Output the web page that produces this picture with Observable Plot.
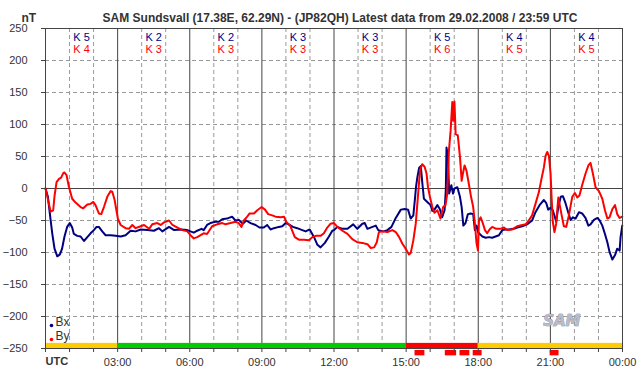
<!DOCTYPE html>
<html><head><meta charset="utf-8">
<script src="https://cdn.jsdelivr.net/npm/d3@7"></script>
<script src="https://cdn.jsdelivr.net/npm/@observablehq/plot@0.6"></script>
<style>body{margin:0;background:#fff} svg{display:block}</style>
</head><body><div id="chart"></div>
<script>
const title = "SAM Sundsvall (17.38E, 62.29N) - (JP82QH) Latest data from 29.02.2008 / 23:59 UTC";
const unitLabel = "nT";
const timeLabel = "UTC";
const hourTicks = [3, 6, 9, 12, 15, 18, 21, 24];
const hourTickLabels = ["03:00", "06:00", "09:00", "12:00", "15:00", "18:00", "21:00", "00:00"];
const yTicks = [-250, -200, -150, -100, -50, 0, 50, 100, 150, 200, 250];
const kStart = [0, 3, 6, 9, 12, 15, 18, 21];
const kBx = [5, 2, 2, 3, 3, 5, 4, 4];
const kBy = [4, 3, 3, 3, 3, 6, 5, 5];
const statusStart = [0, 3, 15, 18];
const statusEnd = [3, 15, 18, 24];
const statusColor = ["#ffcc00", "#00cc00", "#ff0000", "#ffcc00"];
const alertStart = [15.37, 16.63, 17.24, 17.79, 20.99];
const alertEnd = [15.78, 17.10, 17.65, 18.16, 21.36];
const seriesNames = ["Bx", "By"];
const seriesColors = ["#000080", "#ff0000"];

const bxTime = [0,0.1,0.18,0.28,0.375,0.49,0.6,0.69,0.79,0.9,1.01,1.11,1.18,1.32,1.46,1.6,1.74,1.875,2.01,2.125,2.22,2.36,2.5,2.71,2.92,3.125,3.33,3.54,3.75,3.96,4.24,4.51,4.72,4.86,5.14,5.35,5.63,5.9,
 6.03,6.17,6.31,6.49,6.58,6.72,6.86,7.07,7.21,7.35,7.55,7.76,7.9,8.04,8.21,8.35,8.53,8.74,8.9,9.08,9.22,9.36,9.5,9.71,9.85,9.99,10.12,10.29,10.47,10.68,10.82,10.99,11.17,11.31,11.44,11.62,11.79,11.93,
 12.0,12.14,12.35,12.56,12.8,12.97,13.18,13.28,13.39,13.6,13.74,13.84,14.06,14.22,14.39,14.57,14.78,14.94,15.08,15.19,15.3,15.36,15.41,15.47,15.54,15.61,15.67,15.74,15.88,16.02,16.09,16.18,16.3,16.4,16.5,16.6,16.65,16.68,16.74,16.79,16.88,16.95,17.01,17.13,17.24,17.31,17.38,17.47,17.57,17.68,17.79,17.86,17.93,17.99,
 18.03,18.17,18.31,18.44,18.58,18.72,18.86,19.0,19.13,19.27,19.48,19.62,19.83,20.03,20.24,20.38,20.55,20.73,20.83,20.91,21.01,21.1,21.19,21.24,21.33,21.43,21.52,21.63,21.74,21.84,21.94,22.05,22.19,22.32,22.46,22.58,22.67,22.81,22.96,23.05,23.16,23.27,23.37,23.46,23.58,23.69,23.78,23.88,23.92,23.99];
const bxValue = [0,-13,-39,-70,-94,-106,-103,-94,-75,-60,-54,-61,-71,-74,-75,-82,-76,-70,-65,-60,-60,-67,-73,-73,-74,-75,-73,-66,-67,-64,-65,-66,-62,-67,-60,-65,-64,-65,
 -67,-69,-66,-63,-65,-57,-54,-52,-52,-48,-47,-44,-50,-49,-55,-50,-54,-57,-61,-61,-57,-64,-62,-60,-59,-54,-56,-60,-62,-65,-67,-64,-76,-88,-92,-85,-75,-66,
 -65,-60,-63,-63,-56,-63,-55,-54,-63,-60,-58,-65,-67,-65,-60,-46,-33,-32,-33,-47,-42,-19,2,18,32,35,10,-16,-21,-26,-35,-33,-26,-32,-45,-34,-3,64,49,-8,5,-8,0,2,-13,-29,-58,-54,-40,-39,-40,-65,-58,-68,
 -70,-75,-77,-76,-77,-75,-73,-65,-64,-64,-63,-61,-59,-56,-50,-37,-26,-18,-23,-33,-30,-34,-45,-52,-29,-13,-12,-23,-37,-49,-45,-47,-37,-39,-46,-58,-56,-49,-46,-50,-58,-71,-84,-99,-111,-104,-94,-97,-76,-58];

const byTime = [0,0.1,0.21,0.32,0.375,0.46,0.56,0.65,0.74,0.79,0.875,0.97,1.11,1.25,1.46,1.57,1.74,1.875,1.99,2.08,2.22,2.32,2.43,2.57,2.71,2.78,2.875,3.01,3.125,3.33,3.47,3.61,3.75,3.96,4.1,4.31,4.44,4.65,4.79,4.93,5.14,5.28,5.49,5.69,5.9,
 6.03,6.17,6.31,6.45,6.58,6.72,6.93,7.14,7.35,7.49,7.7,7.9,8.04,8.15,8.25,8.39,8.49,8.67,8.81,8.99,9.13,9.26,9.43,9.57,9.78,9.92,10.01,10.19,10.37,10.54,10.75,10.96,11.1,11.24,11.44,11.58,11.72,11.86,
 12.0,12.14,12.35,12.56,12.76,12.97,13.18,13.39,13.53,13.67,13.78,13.87,14.01,14.22,14.43,14.57,14.71,14.84,14.98,15.12,15.19,15.3,15.4,15.49,15.58,15.67,15.77,15.85,15.91,15.99,16.09,16.18,16.3,16.43,16.54,16.64,16.71,16.78,16.85,16.92,16.96,17.01,17.06,17.15,17.24,17.31,17.36,17.43,17.51,17.61,17.7,17.79,17.86,17.93,17.99,18.03,
 18.1,18.17,18.28,18.37,18.47,18.58,18.75,18.93,19.07,19.2,19.41,19.62,19.83,19.97,20.1,20.24,20.38,20.52,20.63,20.73,20.8,20.87,20.94,21.01,21.05,21.1,21.17,21.24,21.33,21.38,21.46,21.56,21.66,21.77,21.91,22.02,22.12,22.21,22.32,22.46,22.58,22.67,22.77,22.88,23.02,23.16,23.27,23.37,23.46,23.58,23.69,23.78,23.88,23.99];
const byValue = [0,-17,-36,-34,-12,10,15,17,24,25,21,3,-16,-22,-29,-31,-25,-24,-21,-26,-39,-40,-29,-13,-4,-5,-18,-47,-57,-62,-63,-57,-62,-59,-57,-63,-56,-54,-57,-53,-50,-57,-61,-65,-67,
 -73,-78,-76,-73,-70,-71,-59,-56,-54,-56,-54,-52,-54,-60,-50,-44,-39,-39,-34,-29,-33,-40,-42,-44,-45,-44,-52,-59,-76,-80,-80,-81,-76,-74,-74,-70,-61,-55,
 -54,-60,-66,-71,-79,-84,-85,-87,-93,-92,-84,-68,-67,-68,-65,-68,-76,-86,-94,-103,-101,-81,-55,-13,29,38,34,23,2,-13,-29,-38,-34,-47,-29,-26,-8,59,90,135,106,136,85,83,49,12,23,36,28,7,-13,-29,-55,-86,-97,-50,
 -45,-52,-65,-70,-64,-60,-63,-63,-61,-65,-64,-59,-57,-56,-50,-42,-24,-6,15,33,51,57,51,23,-13,-52,-68,-55,-14,-24,-40,-59,-60,-42,-13,-7,-14,-11,5,23,36,40,23,2,-4,-16,-34,-47,-45,-32,-26,-40,-46,-44];

const bx = bxTime.map((t, i) => ({t, v: bxValue[i]}));
const by = byTime.map((t, i) => ({t, v: byValue[i]}));
const status = statusStart.map((s, i) => ({s, e: statusEnd[i], c: statusColor[i]}));
const alerts = alertStart.map((s, i) => ({s, e: alertEnd[i]}));
const hours = d3.range(0, 25);
const minorHours = hours.filter(h => h % 3 !== 0);
const majorHours = hours.filter(h => h % 3 === 0 && h > 0 && h < 24);
const dashedY = yTicks.filter(v => v !== 0 && Math.abs(v) !== 250);
const font = "Liberation Sans, Arial, sans-serif";

const legendMarks = seriesNames.flatMap((name, i) => [
  Plot.dot([name], {frameAnchor: "bottom-left", dx: 6, dy: -23 + 14 * i, r: 1.8, fill: seriesColors[i], stroke: null}),
  Plot.text([name], {frameAnchor: "bottom-left", dx: 10, dy: -23 + 14 * i, text: d => d, textAnchor: "start", fill: "#333", fontSize: 12})
]);

const chart = Plot.plot({
  width: 642, height: 376,
  marginLeft: 45, marginRight: 20, marginTop: 28, marginBottom: 28,
  style: {fontFamily: font, fontSize: "11px", color: "#333", background: "#fff"},
  x: {domain: [0, 24], label: null},
  y: {domain: [-250, 250], label: null},
  marks: [
    Plot.ruleY(dashedY, {stroke: "#999", strokeDasharray: "4,3", strokeWidth: 1}),
    Plot.ruleX(minorHours, {stroke: "#999", strokeDasharray: "4,3", strokeWidth: 1}),
    Plot.ruleX(majorHours, {stroke: "#444", strokeWidth: 1}),
    Plot.ruleY([0], {stroke: "#444", strokeWidth: 1}),
    Plot.rect(status, {x1: "s", x2: "e", y1: -250, y2: -242, fill: "c"}),
    Plot.rect(alerts, {x1: "s", x2: "e", y1: -253, y2: -261.5, fill: "#ff0000"}),
    Plot.line(bx, {x: "t", y: "v", stroke: seriesColors[0], strokeWidth: 2}),
    Plot.line(by, {x: "t", y: "v", stroke: seriesColors[1], strokeWidth: 2}),
    Plot.text(kStart, {x: d => d + 1.5, y: 250, dy: 9, text: (d, i) => "K " + kBx[i], fill: "#000080", fontSize: 11}),
    Plot.text(kStart, {x: d => d + 1.5, y: 250, dy: 21, text: (d, i) => "K " + kBy[i], fill: "#ff0000", fontSize: 11}),
    Plot.frame({stroke: "#444"}),
    Plot.axisY(yTicks, {tickSize: 4, tickPadding: 14, stroke: "#444", fill: "#333", fontSize: 11, label: null}),
    Plot.axisX(hours, {tickSize: 4, tickFormat: () => "", stroke: "#444", label: null}),
    Plot.axisX(hourTicks, {tickSize: 0, tickPadding: 10, tickFormat: (d, i) => hourTickLabels[i], fill: "#333", fontSize: 11, label: null}),
    Plot.text([timeLabel], {frameAnchor: "bottom-left", dy: 16, textAnchor: "start", fontWeight: "bold", fill: "#333", fontSize: 11}),
    Plot.text([unitLabel], {frameAnchor: "top-left", dx: -24, dy: -15, fontWeight: "bold", fill: "#333", fontSize: 12}),
    Plot.text([title], {frameAnchor: "top", dx: 6, dy: -15, fontWeight: "bold", fill: "#333", fontSize: 12}),
    ...legendMarks,
    Plot.text(["SAM"], {frameAnchor: "bottom-right", dx: -42, dy: -23, fontStyle: "italic", fontWeight: "bold", fontSize: 15, fill: "#b8bcc8", stroke: "#6a6e80", strokeWidth: 0.6, fontFamily: "DejaVu Sans, sans-serif"})
  ]
});
document.getElementById("chart").appendChild(chart);
</script>
</body></html>
